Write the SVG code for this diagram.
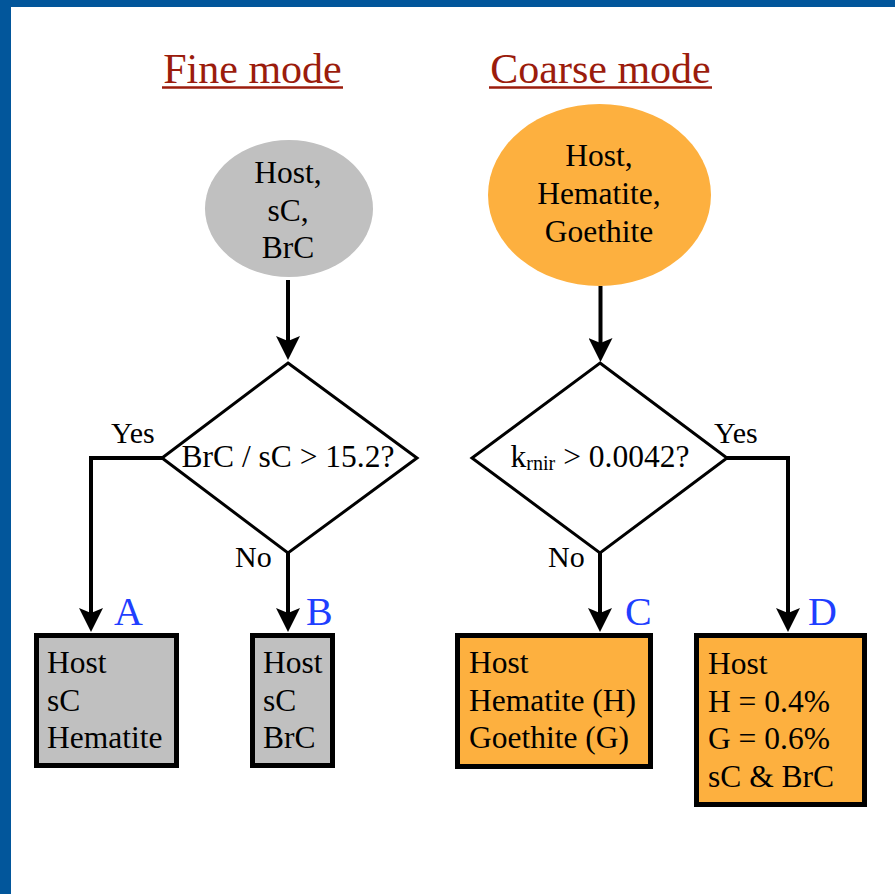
<svg xmlns="http://www.w3.org/2000/svg" width="895" height="894" viewBox="0 0 895 894">
<style>
text{font-family:"Liberation Serif","Times New Roman",serif;fill:#000}
.title{font-size:42px;fill:#9b1c0c}
.ul{stroke:#9b1c0c;stroke-width:2.5}
.t{font-size:31.5px}
.yn{font-size:30px}
.lab{font-size:40px;fill:#1f3fff}
.dia{fill:#fff;stroke:#000;stroke-width:3;stroke-linejoin:miter}
.box{stroke:#000;stroke-width:5}
.gray{fill:#c0c0c0}
.orange{fill:#fdb03f}
.conn{fill:none;stroke:#000;stroke-width:4;stroke-linejoin:miter}
</style>
<defs>
<marker id="arr" viewBox="0 0 24 24" refX="6" refY="12" markerWidth="24" markerHeight="24" markerUnits="userSpaceOnUse" orient="auto">
<path d="M0,0 L24,12 L0,24 L5,12 Z" fill="#000"/>
</marker>
</defs>
<rect x="0" y="0" width="895" height="894" fill="#fff"/>
<rect x="0" y="0" width="895" height="7" fill="#02569b"/>
<rect x="0" y="0" width="11" height="894" fill="#02569b"/>

<g id="title-fine">
<text class="title" x="252.5" y="83" text-anchor="middle">Fine mode</text>
<line class="ul" x1="162" y1="87.5" x2="343" y2="87.5"/>
</g>
<g id="title-coarse">
<text class="title" x="600.5" y="83" text-anchor="middle">Coarse mode</text>
<line class="ul" x1="489" y1="87.5" x2="712" y2="87.5"/>
</g>

<g id="connectors">
<path class="conn" d="M288,280 V342" marker-end="url(#arr)"/>
<path class="conn" d="M600.5,286 V344" marker-end="url(#arr)"/>
<path class="conn" d="M162,458 H91 V614" marker-end="url(#arr)"/>
<path class="conn" d="M288,553 V614" marker-end="url(#arr)"/>
<path class="conn" d="M600,553 V614" marker-end="url(#arr)"/>
<path class="conn" d="M727,458 H788 V614" marker-end="url(#arr)"/>
<text class="yn" x="111" y="443">Yes</text>
<text class="yn" x="235" y="567">No</text>
<text class="yn" x="548" y="567">No</text>
<text class="yn" x="714" y="443">Yes</text>
</g>

<g id="start-fine">
<ellipse class="gray" cx="289" cy="208.5" rx="84" ry="68.5"/>
<text class="t" text-anchor="middle" x="288" y="183">Host,</text>
<text class="t" text-anchor="middle" x="288" y="221">sC,</text>
<text class="t" text-anchor="middle" x="288" y="258">BrC</text>
</g>

<g id="start-coarse">
<ellipse class="orange" cx="599.5" cy="195" rx="111.5" ry="91"/>
<text class="t" text-anchor="middle" x="599" y="166">Host,</text>
<text class="t" text-anchor="middle" x="599" y="204">Hematite,</text>
<text class="t" text-anchor="middle" x="599" y="242">Goethite</text>
</g>

<g id="decision-fine">
<path class="dia" d="M288,363 L417,458 L288,553 L162,458 Z"/>
<text class="t" text-anchor="middle" x="288" y="467">BrC / sC &gt; 15.2?</text>
</g>

<g id="decision-coarse">
<path class="dia" d="M600,363 L727,458 L600,553 L472,458 Z"/>
<text class="t" text-anchor="middle" x="600" y="467">k<tspan font-size="20" dy="3">rnir</tspan><tspan dy="-3"> &gt; 0.0042?</tspan></text>
</g>

<g id="result-A">
<text class="lab" x="114" y="625">A</text>
<rect class="box gray" x="36.5" y="635.5" width="140" height="130"/>
<text class="t" x="47" y="673">Host</text>
<text class="t" x="47" y="711">sC</text>
<text class="t" x="47" y="748">Hematite</text>
</g>

<g id="result-B">
<text class="lab" x="306" y="625">B</text>
<rect class="box gray" x="252.5" y="635.5" width="80" height="130"/>
<text class="t" x="263" y="673">Host</text>
<text class="t" x="263" y="711">sC</text>
<text class="t" x="263" y="748">BrC</text>
</g>

<g id="result-C">
<text class="lab" x="625" y="625">C</text>
<rect class="box orange" x="457.5" y="635.5" width="193" height="131"/>
<text class="t" x="469" y="673">Host</text>
<text class="t" x="469" y="711">Hematite (H)</text>
<text class="t" x="469" y="748">Goethite (G)</text>
</g>

<g id="result-D">
<text class="lab" x="808" y="625">D</text>
<rect class="box orange" x="696.5" y="635.5" width="168" height="169"/>
<text class="t" x="708" y="674">Host</text>
<text class="t" x="708" y="712">H = 0.4%</text>
<text class="t" x="708" y="749">G = 0.6%</text>
<text class="t" x="708" y="787">sC &amp; BrC</text>
</g>
</svg>
